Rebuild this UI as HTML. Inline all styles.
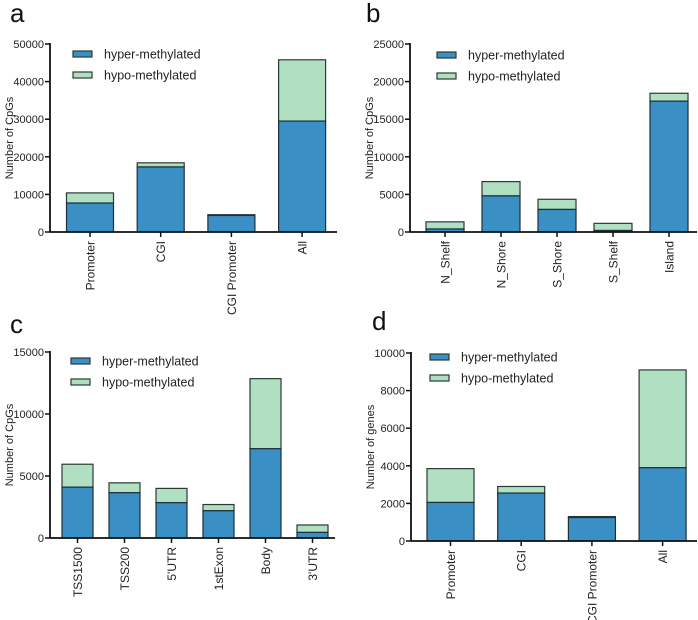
<!DOCTYPE html>
<html><head><meta charset="utf-8"><style>
html,body{margin:0;padding:0;background:#fff;}
svg{display:block;font-family:"Liberation Sans",Arial,sans-serif;}
</style></head><body>
<svg id="fig" width="698" height="620" viewBox="0 0 698 620" xmlns="http://www.w3.org/2000/svg"></svg>
<script>
const catsA = ["Promoter","CGI","CGI Promoter","All"];
const hyperA = [7700,17300,4400,29500];
const totalA = [10400,18400,4600,45800];
const ticksA = [0,10000,20000,30000,40000,50000];

const catsB = ["N_Shelf","N_Shore","S_Shore","S_Shelf","Island"];
const hyperB = [400,4800,3000,200,17400];
const totalB = [1350,6700,4350,1150,18450];
const ticksB = [0,5000,10000,15000,20000,25000];

const catsC = ["TSS1500","TSS200","5'UTR","1stExon","Body","3'UTR"];
const hyperC = [4100,3650,2850,2200,7200,450];
const totalC = [5950,4450,4000,2700,12850,1050];
const ticksC = [0,5000,10000,15000];

const catsD = ["Promoter","CGI","CGI Promoter","All"];
const hyperD = [2050,2550,1250,3900];
const totalD = [3850,2900,1300,9100];
const ticksD = [0,2000,4000,6000,8000,10000];

const NS="http://www.w3.org/2000/svg";
const svg=document.getElementById('fig');
function mk(tag,attrs,parent){const e=document.createElementNS(NS,tag);for(const k in attrs)e.setAttribute(k,attrs[k]);(parent||svg).appendChild(e);return e;}

function panel(p){
  const g=mk('g',{});
  
  
  const y=v=>p.y0-(v/p.max)*(p.y0-p.yTop);
  const xc=i=>p.c0+i*p.step;
  const lt=mk('text',{x:p.lx,y:p.ly,'font-size':26,fill:'#111'},g);lt.textContent=p.letter;
  
  
  const yt=mk('text',{x:0,y:0,'font-size':11,fill:'#222','text-anchor':'middle',transform:`translate(${p.ax-37},${(p.y0+p.yTop)/2}) rotate(-90)`},g);
  yt.textContent=p.ytitle;
  
  
  p.cats.forEach((c,i)=>{
    const x=xc(i)-p.bw/2;
    const r1=mk('rect',{x:x,y:y(p.total[i]),width:p.bw,height:y(p.hyper[i])-y(p.total[i]),fill:'#b1dfc1',stroke:'#2a3a33','stroke-width':1.2},g);
    
    
    const r2=mk('rect',{x:x,y:y(p.hyper[i]),width:p.bw,height:p.y0-y(p.hyper[i]),fill:'#3a8fc5',stroke:'#1d2f3a','stroke-width':1.2},g);
    
    
    mk('line',{x1:xc(i),x2:xc(i),y1:p.y0,y2:p.y0+5,stroke:'#111','stroke-width':1.5},g);
    const t=mk('text',{x:0,y:0,'font-size':12,fill:'#222','text-anchor':'end',transform:`translate(${xc(i)+4.5},${p.y0+9}) rotate(-90)`},g);
    t.textContent=c;
    
    
  });
  mk('line',{x1:p.ax,x2:p.ax,y1:p.yTop-1,y2:p.y0,stroke:'#111','stroke-width':1.8},g);
  mk('line',{x1:p.ax,x2:p.xEnd,y1:p.y0,y2:p.y0,stroke:'#111','stroke-width':1.8},g);
  p.ticks.forEach(v=>{
    mk('line',{x1:p.ax-5,x2:p.ax,y1:y(v),y2:y(v),stroke:'#111','stroke-width':1.5},g);
    const t=mk('text',{x:p.ax-6,y:y(v)+4,'font-size':11,fill:'#222','text-anchor':'end'},g);
    t.textContent=v;
    
    
  });
  const labels=['hyper-methylated','hypo-methylated'],cols=['#3a8fc5','#b1dfc1'];
  labels.forEach((l,k)=>{
    const ly=p.legY+k*21;
    const r=mk('rect',{x:p.legX,y:ly-3,width:19,height:6,fill:cols[k],stroke:'#2a3a33','stroke-width':1.2},g);
    
    
    const t=mk('text',{x:p.legX+31,y:ly+4.5,'font-size':12.5,fill:'#222'},g);
    t.textContent=l;
    
    
  });
}

panel({letter:'a',lx:10,ly:22,ax:50,xEnd:337,y0:232,yTop:44,max:50000,cats:catsA,hyper:hyperA,total:totalA,ticks:ticksA,c0:90,step:70.7,bw:47,legX:73,legY:54,ytitle:'Number of CpGs'});
panel({letter:'b',lx:366,ly:22,ax:410,xEnd:697,y0:232,yTop:44,max:25000,cats:catsB,hyper:hyperB,total:totalB,ticks:ticksB,c0:445,step:56,bw:38,legX:437,legY:55,ytitle:'Number of CpGs'});
panel({letter:'c',lx:10,ly:333,ax:50,xEnd:335,y0:538,yTop:352,max:15000,cats:catsC,hyper:hyperC,total:totalC,ticks:ticksC,c0:77.5,step:47,bw:31,legX:71,legY:361,ytitle:'Number of CpGs'});
panel({letter:'d',lx:372,ly:330,ax:411,xEnd:697,y0:541,yTop:353,max:10000,cats:catsD,hyper:hyperD,total:totalD,ticks:ticksD,c0:450.5,step:70.7,bw:47,legX:430,legY:357,ytitle:'Number of genes'});
</script>
</body></html>
